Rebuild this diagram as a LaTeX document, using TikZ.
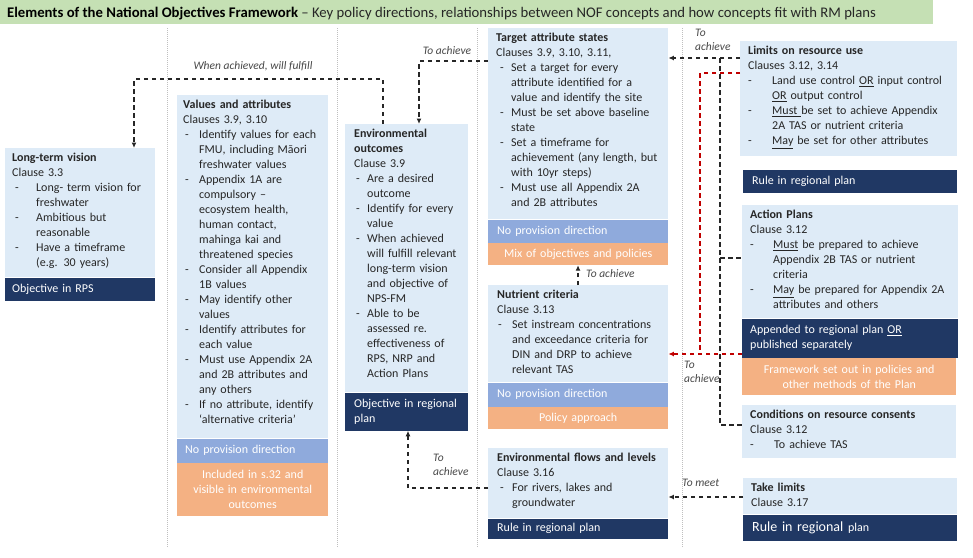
\documentclass[tikz,border=0pt]{standalone}
\usepackage{fontspec}
\setmainfont{Carlito}
\usetikzlibrary{arrows.meta,calc}

\definecolor{boxblue}{HTML}{DEEBF7}
\definecolor{navy}{HTML}{203864}
\definecolor{midblue}{HTML}{8FAADC}
\definecolor{peach}{HTML}{F4B183}
\definecolor{sage}{HTML}{C5E0B4}
\definecolor{ink}{HTML}{262626}
\definecolor{linkred}{HTML}{C00000}
\definecolor{sepgrey}{HTML}{BFBFBF}

% bullet geometry: dash offset and hanging indent
\newlength\bda
\newlength\bdb
\newcommand\bx[2]{\raggedright\parindent=0pt\setlength\bda{#1}\setlength\bdb{#2}\strut}
\newcommand\itm{\par\hangindent=\bdb\hangafter=1\noindent\makebox[\bdb][l]{\hspace*{\bda}-}\ignorespaces}
\newcommand\nl{\newline}

\tikzset{
  panel/.style={fill=boxblue, draw=none, inner sep=0pt, anchor=north west},
  body/.style={anchor=north west, inner sep=0pt, font=\fontsize{12}{15}\selectfont, text=ink},
  bar/.style={anchor=north west, inner ysep=0pt, font=\fontsize{12}{15}\selectfont, text=white, align=left},
  cbar/.style={bar, align=center, inner xsep=4pt},
  dl/.style={draw=ink, line width=1.2pt, dash pattern=on 4.5pt off 3.5pt},
  rl/.style={draw=linkred, line width=1.2pt, dash pattern=on 4.5pt off 3.5pt},
  arr/.style={-{Latex[length=5.5pt,width=5pt]}},
  lab/.style={font=\fontsize{11.5}{14}\selectfont\itshape, text=ink!85, inner sep=0pt},
  sepline/.style={draw=sepgrey, line width=0.8pt, dash pattern=on 1pt off 1pt},
}

\begin{document}
\begin{tikzpicture}[x=1pt, y=-1pt]
\useasboundingbox (0,0) rectangle (973,557);

% banner
\node[fill=sage, inner sep=0pt, anchor=north west, minimum width=933pt, minimum height=24pt] (banner) at (0,0) {};
\node[anchor=base west, inner sep=0pt, font=\fontsize{14.7}{16}\selectfont, text=ink] (title) at (7,17.5)
  {\textbf{\color{black}Elements of the National Objectives Framework} – Key policy directions, relationships between NOF concepts and how concepts fit with RM plans};

% column separators
\draw[sepline] (167,28) -- (167,548);
\draw[sepline] (337,28) -- (337,548);
\draw[sepline] (477,28) -- (477,548);
\draw[sepline] (682,28) -- (682,548);

% Long-term vision
\node[panel, minimum width=150pt, minimum height=129pt] (ltv) at (5,148) {};
\node[body, text width=142pt] (ltvt) at ([xshift=7pt,yshift=-3pt]ltv.north west)
  {\bx{3pt}{24pt}\textbf{Long-term vision}\par Clause 3.3
   \itm Long- term vision for\nl freshwater
   \itm Ambitious but\nl reasonable
   \itm Have a timeframe\nl (e.g. 30 years)\par};
\node[bar, fill=navy, inner xsep=7pt, text width=136pt, minimum height=23pt] (ltvb) at (ltv.south west) {Objective in RPS};

% Values and attributes
\node[panel, minimum width=151pt, minimum height=343pt] (val) at (177,95) {};
\node[body, text width=150pt] (valt) at ([xshift=6pt,yshift=-3pt]val.north west)
  {\bx{2pt}{16pt}\textbf{Values and attributes}\par Clauses 3.9, 3.10
   \itm Identify values for each\nl FMU, including Māori\nl freshwater values
   \itm Appendix 1A are\nl compulsory –\nl ecosystem health,\nl human contact,\nl mahinga kai and\nl threatened species
   \itm Consider all Appendix\nl 1B values
   \itm May identify other\nl values
   \itm Identify attributes for\nl each value
   \itm Must use Appendix 2A\nl and 2B attributes and\nl any others
   \itm If no attribute, identify\nl ‘alternative criteria’\par};
\node[bar, fill=midblue, inner xsep=8pt, text width=135pt, minimum height=24pt] (valb) at (val.south west) {No provision direction};
\node[cbar, fill=peach, text width=143pt, minimum height=53pt] (valo) at (valb.south west) {Included in s.32 and\\visible in environmental\\outcomes};

% Environmental outcomes
\node[panel, minimum width=123pt, minimum height=268pt] (eo) at (345,124) {};
\node[body, text width=125pt] (eot) at ([xshift=9pt,yshift=-3pt]eo.north west)
  {\bx{2pt}{13pt}\textbf{Environmental\nl outcomes}\par Clause 3.9
   \itm Are a desired\nl outcome
   \itm Identify for every\nl value
   \itm When achieved\nl will fulfill relevant\nl long-term vision\nl and objective of\nl NPS-FM
   \itm Able to be\nl assessed re.\nl effectiveness of\nl RPS, NRP and\nl Action Plans\par};
\node[bar, fill=navy, inner xsep=9pt, text width=105pt, minimum height=38pt] (eob) at (eo.south west) {Objective in regional\\plan};

% Target attribute states
\node[panel, minimum width=180pt, minimum height=191pt] (tas) at (488,28) {};
\node[body, text width=180pt] (tast) at ([xshift=8pt,yshift=-3pt]tas.north west)
  {\bx{4pt}{15pt}\textbf{Target attribute states}\par Clauses 3.9, 3.10, 3.11,
   \itm Set a target for every\nl attribute identified for a\nl value and identify the site
   \itm Must be set above baseline\nl state
   \itm Set a timeframe for\nl achievement (any length, but\nl with 10yr steps)
   \itm Must use all Appendix 2A\nl and 2B attributes\par};
\node[bar, fill=midblue, inner xsep=9pt, text width=162pt, minimum height=23pt] (tasb) at (tas.south west) {No provision direction};
\node[cbar, fill=peach, text width=172pt, minimum height=22pt] (taso) at (tasb.south west) {Mix of objectives and policies};

% Nutrient criteria
\node[panel, minimum width=180pt, minimum height=97pt] (nut) at (488,285) {};
\node[body, text width=180pt] (nutt) at ([xshift=9pt,yshift=-3pt]nut.north west)
  {\bx{1pt}{15pt}\textbf{Nutrient criteria}\par Clause 3.13
   \itm Set instream concentrations\nl and exceedance criteria for\nl DIN and DRP to achieve\nl relevant TAS\par};
\node[bar, fill=midblue, inner xsep=9pt, text width=162pt, minimum height=24pt] (nutb) at (nut.south west) {No provision direction};
\node[cbar, fill=peach, text width=172pt, minimum height=22pt] (nuto) at (nutb.south west) {Policy approach};

% Environmental flows and levels
\node[panel, minimum width=180pt, minimum height=70pt] (ef) at (488,448) {};
\node[body, text width=180pt] (eft) at ([xshift=9pt,yshift=-3pt]ef.north west)
  {\bx{3pt}{15pt}\textbf{Environmental flows and levels}\par Clause 3.16
   \itm For rivers, lakes and\nl groundwater\par};
\node[bar, fill=navy, inner xsep=9pt, text width=162pt, minimum height=20pt] (efb) at (ef.south west) {Rule in regional plan};

% Limits on resource use
\node[panel, minimum width=217pt, minimum height=115pt] (lim) at (740,41) {};
\node[body, text width=215pt] (limt) at ([xshift=8pt,yshift=-3pt]lim.north west)
  {\bx{0pt}{24pt}\textbf{Limits on resource use}\par Clauses 3.12, 3.14
   \itm Land use control \underline{OR} input control\nl \underline{OR} output control
   \itm \underline{Must\ }be set to achieve Appendix\nl 2A TAS or nutrient criteria
   \itm \underline{May} be set for other attributes\par};
\node[bar, fill=navy, inner xsep=9pt, text width=196pt, minimum height=23pt] (limb) at (743,170) {Rule in regional plan};

% Action Plans
\node[panel, minimum width=216pt, minimum height=113pt] (ap) at (742,205) {};
\node[body, text width=215pt] (apt) at ([xshift=8pt,yshift=-3pt]ap.north west)
  {\bx{0pt}{23pt}\textbf{Action Plans}\par Clause 3.12
   \itm \underline{Must} be prepared to achieve\nl Appendix 2B TAS or nutrient\nl criteria
   \itm \underline{May} be prepared for Appendix 2A\nl attributes and others\par};
\node[bar, fill=navy, inner xsep=8pt, text width=200pt, minimum height=39pt] (apb) at (ap.south west) {Appended to regional plan \underline{OR}\\published separately};
\node[cbar, fill=peach, text width=206pt, minimum height=37pt] (apo) at (apb.south west) {Framework set out in policies and\\other methods of the Plan};

% Conditions on resource consents
\node[panel, minimum width=214pt, minimum height=53pt] (cond) at (742,405) {};
\node[body, text width=212pt] (condt) at ([xshift=8pt,yshift=-3pt]cond.north west)
  {\bx{0pt}{24pt}\textbf{Conditions on resource consents}\par Clause 3.12
   \itm To achieve TAS\par};

% Take limits
\node[panel, minimum width=214pt, minimum height=36pt] (tl) at (743,478) {};
\node[body, text width=212pt] (tlt) at ([xshift=8pt,yshift=-3pt]tl.north west)
  {\bx{0pt}{0pt}\textbf{Take limits}\par Clause 3.17\par};
\node[bar, fill=navy, inner xsep=9pt, text width=196pt, minimum height=26pt, font=\fontsize{14}{16}\selectfont] (tlb) at (tl.south west) {Rule in regional {\fontsize{12}{14}\selectfont plan}};

% connectors
\coordinate (wf1) at (383,79);
\coordinate (wf2) at (134,79);
\draw[dl,arr] (wf1 |- eo.north) -- (wf1) -- (wf2) -- (wf2 |- ltv.north);
\node[lab] (lwf) at (253,66) {When achieved, will fulfill};

\coordinate (ta1) at (419,61);
\draw[dl,arr] (ta1 -| tas.west) -- (ta1) -- (ta1 |- eo.north);
\node[lab] (lta1) at (447,51) {To achieve};

\coordinate (lk1) at (720,58);
\coordinate (lk2) at (720,258);
\coordinate (lk3) at (720,425);
\draw[dl,arr] (lk1 -| lim.west) -- (lk1 -| tas.east);
\draw[dl] (lk1) -- (lk3) -- (lk3 -| cond.west);
\draw[dl] (lk2) -- (lk2 -| ap.west);
\node[lab, anchor=west, align=left] (lta2) at (695,40) {To\\achieve};

\coordinate (rk1) at (700,73);
\coordinate (rk2) at (700,354);
\draw[rl] (rk1 -| lim.west) -- (rk1) -- (rk2);
\draw[rl,arr] (rk2 -| ap.west) -- (rk2 -| nut.east);
\node[lab, anchor=west, align=left] (lta4) at (684,372) {To\\achieve};

\coordinate (nt) at (578,275);
\draw[dl,arr] (nt |- nut.north) -- (nt |- taso.south);
\node[lab, anchor=west] (lta3) at (586,274) {To achieve};

\coordinate (fe) at (408,488);
\draw[dl,arr] (fe -| ef.west) -- (fe) -- (fe |- eob.south);
\node[lab, anchor=west, align=left] (lta5) at (433,465) {To\\achieve};

\coordinate (tm) at (700,497);
\draw[dl,arr] (tm -| tl.west) -- (tm -| ef.east);
\node[lab, anchor=west] (ltm) at (682,483) {To meet};

\end{tikzpicture}
\end{document}
